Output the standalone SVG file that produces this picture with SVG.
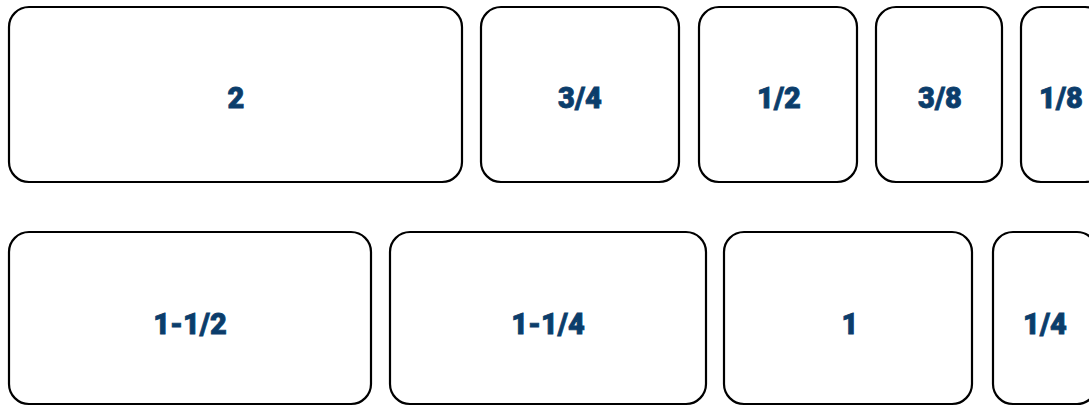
<svg xmlns="http://www.w3.org/2000/svg" width="1089" height="406" viewBox="0 0 1089 406">
<style>
.b{fill:#fff;stroke:#000;stroke-width:2.2}
.t{font-family:Roboto,"Liberation Sans",sans-serif;font-weight:900;font-size:29px;fill:#0b3d6b;stroke:#0b3d6b;stroke-width:0.8;text-anchor:middle}
</style>
<rect width="1089" height="406" fill="#fff"/>
<g id="connectors"/>
<g id="n2"><rect class="b" x="9" y="7" width="453" height="175" rx="20"/><text class="t" x="236" y="108">2</text></g>
<g id="n34"><rect class="b" x="481" y="7" width="198" height="175" rx="20"/><text class="t" x="580" y="108">3/4</text></g>
<g id="n12"><rect class="b" x="699" y="7" width="158" height="175" rx="20"/><text class="t" x="779" y="108">1/2</text></g>
<g id="n38"><rect class="b" x="876" y="7" width="126" height="175" rx="20"/><text class="t" x="940" y="108">3/8</text></g>
<g id="n18"><rect class="b" x="1021" y="7" width="84" height="175" rx="20"/><text class="t" x="1061" y="108">1/8</text></g>
<g id="n112"><rect class="b" x="9" y="232" width="362" height="172" rx="20"/><text class="t" x="190" y="334">1-1/2</text></g>
<g id="n114"><rect class="b" x="390" y="232" width="316" height="172" rx="20"/><text class="t" x="548" y="334">1-1/4</text></g>
<g id="n1"><rect class="b" x="724" y="232" width="248" height="172" rx="20"/><text class="t" x="850" y="334">1</text></g>
<g id="n14"><rect class="b" x="993" y="232" width="104" height="172" rx="20"/><text class="t" x="1045" y="334">1/4</text></g>
</svg>
